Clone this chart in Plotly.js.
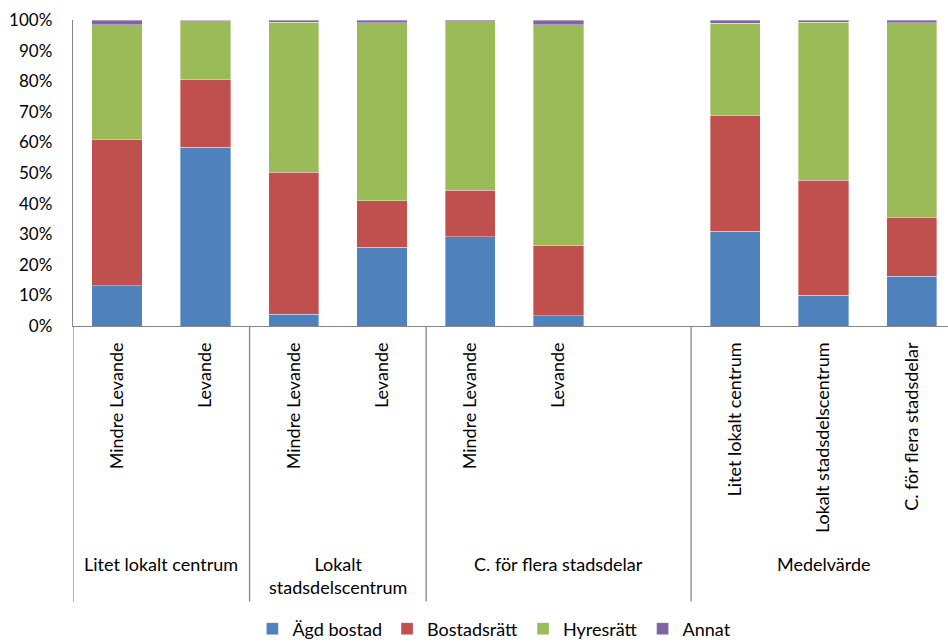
<!DOCTYPE html>
<html>
<head>
<meta charset="utf-8">
<script src="https://cdn.plot.ly/plotly-3.0.1.min.js"></script>
<style>html,body{margin:0;padding:0;background:#fff;}#chart{width:948px;height:642px;}</style>
</head>
<body>
<div id="chart"></div>
<script>
// ---- data ----
const groups = ['Litet lokalt centrum', 'Lokalt<br>stadsdelscentrum', 'C. för flera stadsdelar', 'Medelvärde'];
const groupOf = [0, 0, 1, 1, 2, 2, 2, 3, 3, 3];
const subLabels = ['Mindre Levande', 'Levande', 'Mindre Levande', 'Levande', 'Mindre Levande', 'Levande', '',
                   'Litet lokalt centrum', 'Lokalt stadsdelscentrum', 'C. för flera stadsdelar'];
const seriesNames = ['Ägd bostad', 'Bostadsrätt', 'Hyresrätt', 'Annat'];
const agdBostad   = [13.1, 58.4,  3.8, 25.8, 29.1,  3.3, null, 31.0, 10.1, 16.2];
const bostadsratt = [48.0, 22.0, 46.5, 15.1, 15.3, 23.1, null, 37.9, 37.6, 19.1];
const hyresratt   = [37.4, 19.4, 49.0, 58.2, 55.0, 72.1, null, 30.0, 51.6, 63.8];
const annat       = [ 1.5,  0.2,  0.7,  0.9,  0.6,  1.5, null,  1.1,  0.7,  0.9];
const yTickValues = [0, 10, 20, 30, 40, 50, 60, 70, 80, 90, 100];
const colors = ['#4F81BD', '#C0504D', '#9BBB59', '#8064A2'];

// ---- build ----
const FONT = 'Lato, "Open Sans", sans-serif';
const slots = subLabels.map((_, i) => i);
const values = [agdBostad, bostadsratt, hyresratt, annat];
const traces = values.map((v, k) => ({
  type: 'bar', name: seriesNames[k], x: slots, y: v,
  marker: {color: colors[k], line: {color: 'rgba(255,255,255,0.45)', width: 0.8}},
  hoverinfo: 'name+y'
}));

const tickIdx = slots.filter(i => subLabels[i] !== '');
const axisColor = '#868686';
const shapes = [];
const annotations = [];
groups.forEach((g, gi) => {
  const idx = slots.filter(i => groupOf[i] === gi);
  const lo = Math.min(...idx), hi = Math.max(...idx);
  shapes.push({type: 'line', xref: 'x', yref: 'paper', x0: lo - 0.5, x1: lo - 0.5, y0: 0, y1: -0.90,
               line: {color: axisColor, width: 1.3}});
  annotations.push({xref: 'x', yref: 'paper', x: (lo + hi) / 2, y: -0.736, yanchor: 'top', xanchor: 'center',
                    text: g, showarrow: false, font: {family: FONT, size: 18, color: '#000'}});
});

const layout = {
  width: 948, height: 642,
  margin: {l: 73, r: 0, t: 20, b: 316, autoexpand: false},
  paper_bgcolor: '#fff', plot_bgcolor: '#fff',
  barmode: 'stack', bargap: 0.43,
  showlegend: true,
  legend: {orientation: 'h', x: 0.205, xanchor: 'left', y: -0.99, yanchor: 'middle',
           font: {family: FONT, size: 18, color: '#000'}, traceorder: 'normal', itemwidth: 30},
  xaxis: {range: [-0.5, 9.41], tickmode: 'array', tickvals: tickIdx, ticktext: tickIdx.map(i => subLabels[i]),
          tickangle: -90, ticks: 'outside', ticklen: 8, tickcolor: 'rgba(0,0,0,0)', automargin: false,
          tickfont: {family: FONT, size: 18, color: '#000'},
          showline: true, linecolor: axisColor, linewidth: 1.3, showgrid: false, zeroline: false, fixedrange: true},
  yaxis: {range: [0, 100], tickmode: 'array', tickvals: yTickValues, ticktext: yTickValues.map(v => v + '%'),
          ticks: 'outside', ticklen: 16, tickcolor: 'rgba(0,0,0,0)', automargin: false,
          tickfont: {family: FONT, size: 17, color: '#000'},
          showline: true, linecolor: axisColor, linewidth: 1.3, showgrid: false, zeroline: false, fixedrange: true},
  shapes: shapes,
  annotations: annotations,
  font: {family: FONT, color: '#000'}
};
Plotly.newPlot('chart', traces, layout, {displayModeBar: false, staticPlot: true});
</script>
</body>
</html>
